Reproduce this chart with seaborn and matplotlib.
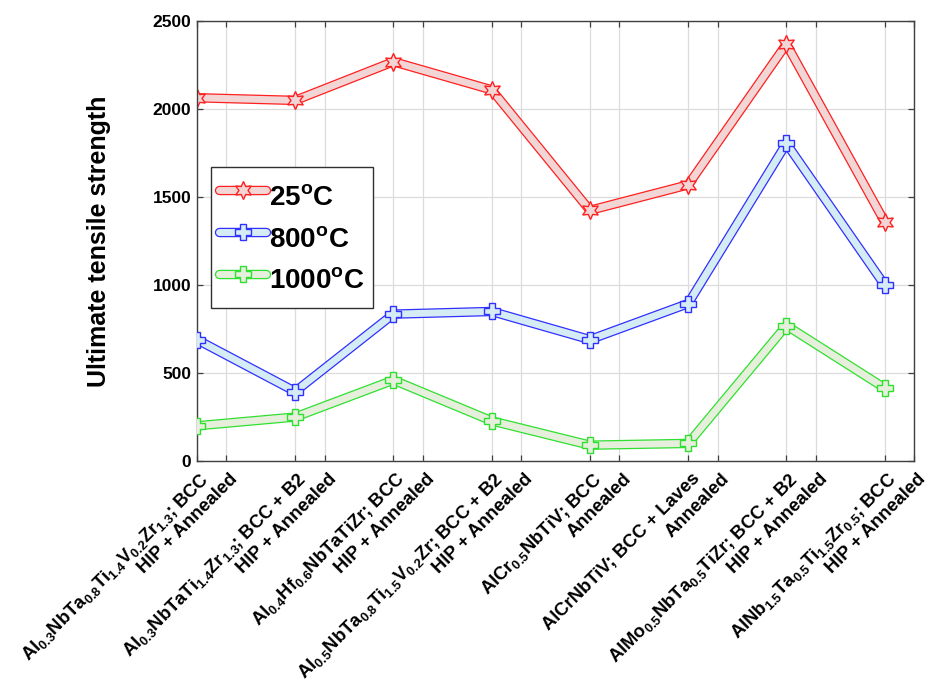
import numpy as np
import pandas as pd
import matplotlib
matplotlib.use("Agg")
import matplotlib.pyplot as plt
import seaborn as sns
from matplotlib.legend_handler import HandlerTuple
from matplotlib.transforms import ScaledTranslation

# ---------------- data ----------------
alloys = [
    "Al$_{0.3}$NbTa$_{0.8}$Ti$_{1.4}$V$_{0.2}$Zr$_{1.3}$; BCC",
    "Al$_{0.3}$NbTaTi$_{1.4}$Zr$_{1.3}$; BCC + B2",
    "Al$_{0.4}$Hf$_{0.6}$NbTaTiZr; BCC",
    "Al$_{0.5}$NbTa$_{0.8}$Ti$_{1.5}$V$_{0.2}$Zr; BCC + B2",
    "AlCr$_{0.5}$NbTiV; BCC",
    "AlCrNbTiV; BCC + Laves",
    "AlMo$_{0.5}$NbTa$_{0.5}$TiZr; BCC + B2",
    "AlNb$_{1.5}$Ta$_{0.5}$Ti$_{1.5}$Zr$_{0.5}$; BCC",
]
processing = ["HIP + Annealed", "HIP + Annealed", "HIP + Annealed", "HIP + Annealed",
              "Annealed", "Annealed", "HIP + Annealed", "HIP + Annealed"]
uts_25 = [2065, 2050, 2270, 2110, 1425, 1570, 2370, 1360]
uts_800 = [690, 395, 835, 850, 690, 895, 1805, 1000]
uts_1000 = [200, 250, 460, 228, 90, 100, 770, 415]
series_labels = ["25$^{o}$C", "800$^{o}$C", "1000$^{o}$C"]
y_ticks = [0, 500, 1000, 1500, 2000, 2500]
y_label = "Ultimate tensile strength"

# ---------------- style ----------------
sns.set_theme(style="white")
plt.rcParams["font.family"] = ["Liberation Sans", "DejaVu Sans"]
plt.rcParams["font.weight"] = "bold"
plt.rcParams["mathtext.default"] = "regular"
plt.rcParams["text.color"] = "black"
plt.rcParams["axes.labelcolor"] = "black"
plt.rcParams["xtick.color"] = "black"
plt.rcParams["ytick.color"] = "black"

edge_cols = ["#ff2020", "#3030ff", "#30e030"]
fill_cols = ["#f2d6d6", "#d6ecf4", "#e6eedc"]
markers = [(6, 1, 0), "P", "P"]
msizes = [13, 12, 12]

x = np.arange(1, len(alloys) + 1)
df = pd.DataFrame({"x": np.tile(x, 3),
                   "uts": uts_25 + uts_800 + uts_1000,
                   "series": np.repeat(series_labels, len(x))})

fig = plt.figure(figsize=(9.29, 6.85), dpi=100)
ax = fig.add_axes([0.212, 0.327, 0.772, 0.642])

handles = []
for i, lab in enumerate(series_labels):
    d = df[df["series"] == lab]
    n0 = len(ax.lines)
    sns.lineplot(data=d, x="x", y="uts", ax=ax, color=edge_cols[i], lw=6.8,
                 legend=False, zorder=2 + i)
    outline = ax.lines[n0]
    sns.lineplot(data=d, x="x", y="uts", ax=ax, color=fill_cols[i], lw=5.0,
                 marker=markers[i], markersize=msizes[i], markerfacecolor=fill_cols[i],
                 markeredgecolor=edge_cols[i], markeredgewidth=1.0,
                 legend=False, zorder=2 + i)
    inner = ax.lines[n0 + 1]
    handles.append((outline, inner))

ax.set_xlim(1, 8.3)
ax.set_ylim(0, 2500)
ax.set_yticks(y_ticks)
ax.set_yticklabels([str(v) for v in y_ticks], fontsize=12.5, fontweight="bold")
ax.set_xlabel("")
ax.set_ylabel(y_label, fontsize=18, fontweight="bold", labelpad=30)

ax.grid(True, color="#dcdcdc", lw=0.9)
ax.set_axisbelow(True)
for s in ax.spines.values():
    s.set_color("#404040")
    s.set_linewidth(1.0)
ax.tick_params(axis="both", direction="in", length=4, width=0.9, color="#404040",
               labelcolor="black", top=True, right=True, bottom=True, left=True)
ax.tick_params(axis="x", pad=6)
ax.tick_params(axis="y", pad=4)

# ticks: formula/phase at each point, processing at +0.3
xt = []
xl = []
for i in range(len(alloys)):
    xt += [x[i], x[i] + 0.3]
    xl += [alloys[i], processing[i]]
ax.set_xticks(xt)
ax.set_xticklabels(xl, rotation=45, ha="right", va="center", rotation_mode="anchor",
                   fontsize=13.2, fontweight="bold")
off = ScaledTranslation(9 / 100, -7 / 100, fig.dpi_scale_trans)
for t in ax.get_xticklabels():
    t.set_transform(t.get_transform() + off)

leg = ax.legend(handles, series_labels, handler_map={tuple: HandlerTuple(ndivide=1, pad=0)},
                loc="upper left", bbox_to_anchor=(0.0195, 0.668), borderaxespad=0,
                prop={"weight": "bold", "size": 20},
                handlelength=1.7, handleheight=1.9, handletextpad=0.1, labelspacing=0.02,
                borderpad=0.3, frameon=True, fancybox=False, framealpha=1)
leg.get_frame().set_edgecolor("#303030")
leg.get_frame().set_linewidth(1.0)

fig.savefig("out.png", dpi=100)
